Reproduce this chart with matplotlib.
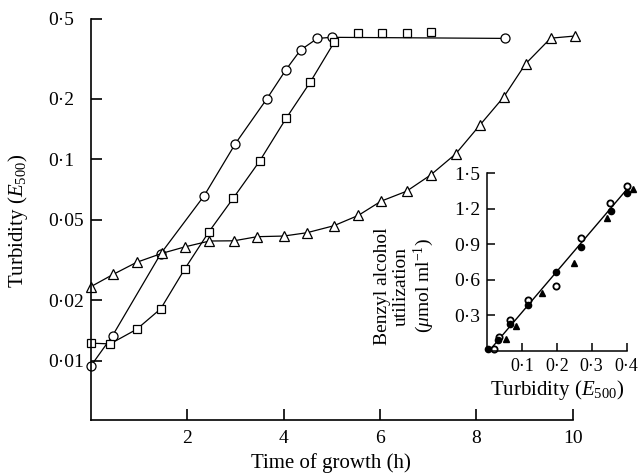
import numpy as np
import matplotlib.pyplot as plt

plt.rcParams['font.family'] = ['Liberation Serif', 'DejaVu Serif']
plt.rcParams['mathtext.fontset'] = 'custom'
plt.rcParams['mathtext.rm'] = 'Liberation Serif'
plt.rcParams['mathtext.it'] = 'Liberation Serif:italic'

# growth curves, turbidity (E500) against time (h)
t_circ = [0, 0.45, 1.45, 2.35, 3.0, 3.65, 4.05, 4.35, 4.7, 5.0, 8.6]
e_circ = [0.0094, 0.0133, 0.034, 0.066, 0.12, 0.2, 0.28, 0.35, 0.40, 0.405, 0.40]

t_sq = [0, 0.4, 0.95, 1.45, 1.95, 2.45, 2.95, 3.5, 4.05, 4.55, 5.05,
        5.55, 6.05, 6.55, 7.05]
e_sq = [0.0122, 0.0121, 0.0143, 0.0181, 0.0286, 0.0437, 0.064, 0.098, 0.16,
        0.242, 0.383, 0.427, 0.427, 0.427, 0.43]
n_sq_line = 11  # squares after 5 h sit on the plateau line

t_tri = [0, 0.46, 0.95, 1.47, 1.96, 2.46, 2.97, 3.45, 4.0, 4.48, 5.04,
         5.55, 6.02, 6.55, 7.05, 7.57, 8.08, 8.57, 9.02, 9.54, 10.04]
e_tri = [0.0233, 0.0268, 0.0308, 0.0341, 0.0368, 0.0393, 0.0394, 0.0413,
         0.0416, 0.0432, 0.0468, 0.0527, 0.062, 0.0695, 0.0837, 0.1066,
         0.149, 0.205, 0.299, 0.401, 0.411]

yticks = [0.01, 0.02, 0.05, 0.1, 0.2, 0.5]
ylabels = ['0·01', '0·02', '0·05', '0·1', '0·2', '0·5']
xticks = [2, 4, 6, 8, 10]

# inset: benzyl alcohol used against turbidity
ins_open_x = [0.02, 0.034, 0.067, 0.118, 0.199, 0.268, 0.352, 0.40]
ins_open_y = [0.02, 0.118, 0.264, 0.426, 0.544, 0.95, 1.245, 1.39]
ins_fill_x = [0.002, 0.03, 0.067, 0.118, 0.198, 0.268, 0.354, 0.40]
ins_fill_y = [0.015, 0.09, 0.23, 0.39, 0.665, 0.88, 1.18, 1.33]
ins_tri_x = [0.053, 0.083, 0.157, 0.25, 0.344, 0.419]
ins_tri_y = [0.10, 0.213, 0.493, 0.74, 1.118, 1.37]
fit_x = [0.01, 0.41]
fit_y = [0.015, 1.395]

fig = plt.figure(figsize=(6.4, 4.73), dpi=100)
ax = fig.add_axes([0.142, 0.112, 0.753, 0.848])

style = dict(color='black', lw=0.9, mfc='white', mec='black', mew=0.9)
ax.plot(t_circ, e_circ, marker='o', ms=6.5, **style)
ax.plot(t_sq[:n_sq_line], e_sq[:n_sq_line], marker='s', ms=6, **style)
ax.plot(t_sq[n_sq_line:], e_sq[n_sq_line:], ls='none', marker='s', ms=6,
        mfc='white', mec='black', mew=0.9)
ax.plot(t_tri, e_tri, marker='^', ms=7, **style)
for line in ax.lines:
    line.set_clip_on(False)

ax.set_yscale('log')
ax.set_xlim(0, 10)
ax.set_ylim(0.00506, 0.5)
ax.set_yticks(yticks)
ax.set_yticklabels(ylabels)
ax.yaxis.set_minor_locator(plt.NullLocator())
ax.set_xticks(xticks)
ax.set_xticklabels([str(v) for v in xticks])
for s in ['top', 'right']:
    ax.spines[s].set_visible(False)
for s in ['left', 'bottom']:
    ax.spines[s].set_linewidth(1.2)
ax.tick_params(direction='in', length=8, width=1.2, labelsize=14)
ax.tick_params(axis='x', pad=7)
ax.tick_params(axis='y', pad=31)
for lab in ax.get_yticklabels():
    lab.set_horizontalalignment('left')

fig.text(331 / 640, 1 - 463 / 473, 'Time of growth (h)', fontsize=15,
         ha='center', va='center')
fig.text(18 / 640, 1 - 221 / 473, r'Turbidity ($E_{500}$)', fontsize=15,
         rotation=90, ha='center', va='center')

ins = fig.add_axes([0.761, 0.258, 0.218, 0.376])
ins.plot(fit_x, fit_y, color='black', lw=1.0)
ins.plot(ins_open_x, ins_open_y, ls='none', marker='o', ms=4.5,
         mfc='white', mec='black', mew=1.3, clip_on=False)
ins.plot(ins_fill_x, ins_fill_y, ls='none', marker='o', ms=4.5,
         color='black', clip_on=False)
ins.plot(ins_tri_x, ins_tri_y, ls='none', marker='^', ms=4.5,
         color='black', clip_on=False)
ins.set_xlim(0, 0.4)
ins.set_ylim(0, 1.5)
ins.set_xticks([0.1, 0.2, 0.3, 0.4])
ins.set_xticklabels(['0·1', '0·2', '0·3', '0·4'])
ins.set_yticks([0.3, 0.6, 0.9, 1.2, 1.5])
ins.set_yticklabels(['0·3', '0·6', '0·9', '1·2', '1·5'])
ins.patch.set_alpha(0)
for s in ['top', 'right']:
    ins.spines[s].set_visible(False)
for s in ['left', 'bottom']:
    ins.spines[s].set_linewidth(1.1)
ins.tick_params(direction='in', length=6, width=1.1, labelsize=14, pad=5)
ins.tick_params(axis='x', labelsize=13)

fig.text(557 / 640, 1 - 390 / 473, r'Turbidity ($E_{500}$)', fontsize=15,
         ha='center', va='center')
fig.text(405 / 640, 1 - 286 / 473,
         'Benzyl alcohol\nutilization\n' + r'($\mu$mol ml$^{-1}$)',
         fontsize=14, rotation=90, ha='center', va='center',
         linespacing=1.15, multialignment='center')

fig.savefig('out.png', dpi=100)
